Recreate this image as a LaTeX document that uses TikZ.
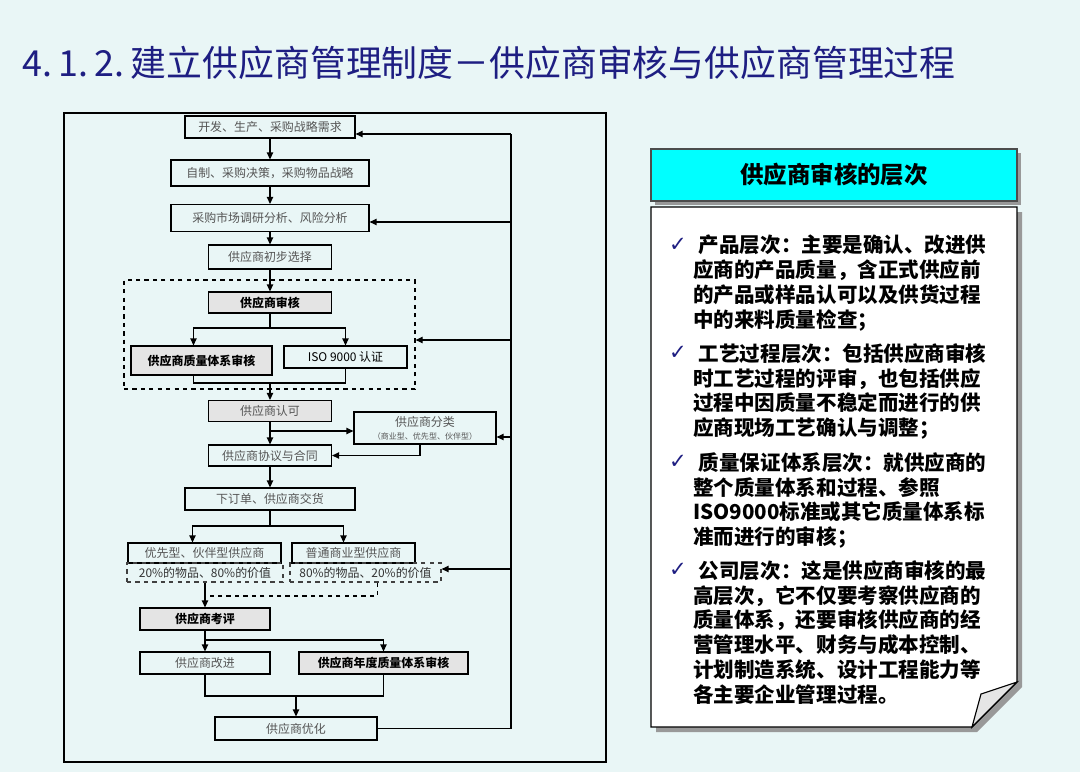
\documentclass[tikz,border=0pt]{standalone}
\usepackage{fontspec}
\setmainfont{Noto Sans CJK SC}
\newfontfamily\symfont{DejaVu Sans}
\usetikzlibrary{arrows.meta,shadows}
\definecolor{slidebg}{RGB}{233,246,246}
\definecolor{navy}{RGB}{30,30,130}
\definecolor{boxgray}{RGB}{228,228,228}
\definecolor{txtgray}{RGB}{85,85,85}
\definecolor{hdrcyan}{RGB}{0,255,255}

\begin{document}
\begin{tikzpicture}[
  x=0.025cm, y=-0.025cm,
  box/.style={draw, line width=0.8pt, text=txtgray, font=\fontsize{8.5}{10}\selectfont, inner sep=0pt},
  gbox/.style={box, fill=boxgray, text=black, font=\fontsize{8.5}{10}\selectfont\bfseries},
  dbox/.style={box, draw=black!75, dashed, text=black!80},
  grp/.style={draw, dashed, line width=0.8pt},
  arr/.style={-{Triangle[length=5pt,width=4.5pt]}, line width=0.9pt},
  ln/.style={line width=0.9pt},
  hdr/.style={draw=black!70, fill=hdrcyan, line width=0.8pt, font=\fontsize{16.7}{20}\selectfont\bfseries,
    drop shadow={shadow xshift=3pt, shadow yshift=-3pt, fill=black!40, opacity=1}},
  item/.style={anchor=north west, align=left, inner sep=0pt, font=\fontsize{14.6}{17.7}\selectfont\bfseries},
  chk/.style={anchor=base, inner sep=0pt, text=navy, font=\symfont\fontsize{15}{15}\selectfont}
]
\fill[slidebg] (0,0) rectangle (1080,772);
\useasboundingbox (0,0) rectangle (1080,772);

% title
\node[anchor=base west, inner sep=0pt, text=navy, font=\fontsize{25.5}{30}\selectfont] (title) at (22,76)
  {4.\hspace{4.5pt}1.\hspace{4.5pt}2.\hspace{4.5pt}建立供应商管理制度－供应商审核与供应商管理过程};

% flow chart
\draw[line width=0.9pt] (64,113) rectangle (606,762);

\node[box, minimum width=4.25cm, minimum height=0.55cm] (need) at (270,127) {开发、生产、采购战略需求};
\node[box, minimum width=4.95cm, minimum height=0.65cm] (make) at (270,173) {自制、采购决策，采购物品战略};
\node[box, minimum width=4.95cm, minimum height=0.675cm] (market) at (270,218) {采购市场调研分析、风险分析};
\node[box, minimum width=3.075cm, minimum height=0.6cm] (prelim) at (270,257) {供应商初步选择};
\node[grp, minimum width=7.275cm, minimum height=2.725cm] (auditgrp) at (269.5,334.5) {};
\node[gbox, minimum width=3.075cm, minimum height=0.525cm] (audit) at (270,302.5) {供应商审核};
\node[gbox, minimum width=3.525cm, minimum height=0.725cm] (qsys) at (201.5,360.5) {供应商质量体系审核};
\node[box, text=black, minimum width=3.075cm, minimum height=0.55cm] (iso) at (345.5,357) {ISO 9000 认证};
\node[box, fill=boxgray, minimum width=3.075cm, minimum height=0.525cm] (approve) at (270,411) {供应商认可};
\node[box, align=center, minimum width=3.55cm, minimum height=0.8cm] (classify) at (425,428)
  {供应商分类\\[-1pt]{\fontsize{5.7}{7}\selectfont （商业型、优先型、伙伴型）}};
\node[box, minimum width=3.075cm, minimum height=0.525cm] (contract) at (270,455.5) {供应商协议与合同};
\node[box, minimum width=4.25cm, minimum height=0.55cm] (order) at (270,499) {下订单、供应商交货};
\node[box, minimum width=3.825cm, minimum height=0.5cm] (pref) at (204.5,553) {优先型、伙伴型供应商};
\node[dbox, minimum width=3.9cm, minimum height=0.475cm] (prefv) at (205,572.5) {20\%的物品、80\%的价值};
\node[box, minimum width=3.075cm, minimum height=0.5cm] (comm) at (353.5,553) {普通商业型供应商};
\node[dbox, minimum width=3.775cm, minimum height=0.475cm] (commv) at (365.5,572.5) {80\%的物品、20\%的价值};
\node[gbox, minimum width=3.25cm, minimum height=0.55cm] (review) at (205,619) {供应商考评};
\node[box, minimum width=3.25cm, minimum height=0.55cm] (improve) at (205,663) {供应商改进};
\node[gbox, minimum width=4.225cm, minimum height=0.55cm] (annual) at (383.5,663) {供应商年度质量体系审核};
\node[box, minimum width=4.05cm, minimum height=0.575cm] (optimize) at (296,728.5) {供应商优化};

\coordinate (s1) at (270,328);
\coordinate (m1) at (270,383);
\coordinate (b1) at (270,431);
\coordinate (s2) at (270,526);
\coordinate (m2) at (205,596);
\coordinate (s3) at (205,640);
\coordinate (m3) at (296,696);
\coordinate (fb1) at (511,134);
\coordinate (fb2) at (511,222);
\coordinate (fb3) at (511,340);
\coordinate (fb4) at (511,437);
\coordinate (fb5) at (511,569);

\draw[arr] (need) -- (make);
\draw[arr] (make) -- (market);
\draw[arr] (market) -- (prelim);
\draw[arr] (prelim) -- (audit);
\draw[ln] (audit) -- (s1);
\draw[arr] (s1) -| ([xshift=-0.2cm]qsys.north);
\draw[arr] (s1) -| (iso.north);
\draw[ln] ([xshift=-0.2cm]qsys.south) |- (m1) -| (iso.south);
\draw[arr] (m1) -- (approve);
\draw[arr] (approve) -- (contract);
\draw[arr] (b1) -- (classify.west |- b1);
\draw[arr] ([xshift=-0.125cm]classify.south) |- (contract);
\draw[arr] (contract) -- (order);
\draw[ln] (order) -- (s2);
\draw[arr] (s2) -| ([xshift=-0.3cm]pref.north);
\draw[arr] (s2) -| ([xshift=-0.25cm]comm.north);
\draw[ln, dashed] ([xshift=0.3cm]commv.south) |- (m2);
\draw[arr] (prefv) -- (review);
\draw[arr] (review) -- (improve);
\draw[arr] (s3) -| (annual.north);
\draw[ln] (improve) |- (m3) -| (annual);
\draw[arr] (m3) -- (optimize);
\draw[ln] (optimize) -| (fb1);
\draw[arr] (fb1) -- (need.east |- fb1);
\draw[arr] (fb2) -- (market.east |- fb2);
\draw[arr] (fb3) -- (auditgrp.east |- fb3);
\draw[arr] (fb4) -- (classify.east |- fb4);
\draw[arr] (fb5) -- (commv.east |- fb5);

% right panel
\node[hdr, minimum width=9.15cm, minimum height=1.3cm] (levels) at (834,175) {供应商审核的层次};
\fill[black!40] (656,212) -- (1022,212) -- (1022,687) -- (977,732) -- (656,732) -- cycle;
\draw[fill=white, line width=0.8pt] (651,207) -- (1017,207) -- (1017,682) -- (972,727) -- (651,727) -- cycle;
\draw[fill=black!10, line width=0.8pt] (1017,682) -- (981,694) -- (972,727) -- cycle;

\node[chk] (tick1) at (678,251) {✓};
\node[item] (lvl1) at (693,235) {\hspace{4pt}产品层次：主要是确认、改进供\\
  应商的产品质量，含正式供应前\\的产品或样品认可以及供货过程\\中的来料质量检查；};
\node[chk] (tick2) at (678,359) {✓};
\node[item] (lvl2) at (693,343) {\hspace{4pt}工艺过程层次：包括供应商审核\\
  时工艺过程的评审，也包括供应\\过程中因质量不稳定而进行的供\\应商现场工艺确认与调整；};
\node[chk] (tick3) at (678,468) {✓};
\node[item] (lvl3) at (693,452) {\hspace{4pt}质量保证体系层次：就供应商的\\
  整个质量体系和过程、参照\\ISO9000标准或其它质量体系标\\准而进行的审核；};
\node[chk] (tick4) at (678,576) {✓};
\node[item] (lvl4) at (693,560) {\hspace{4pt}公司层次：这是供应商审核的最\\
  高层次，它不仅要考察供应商的\\质量体系，还要审核供应商的经\\营管理水平、财务与成本控制、\\
  计划制造系统、设计工程能力等\\各主要企业管理过程。};
\end{tikzpicture}
\end{document}
